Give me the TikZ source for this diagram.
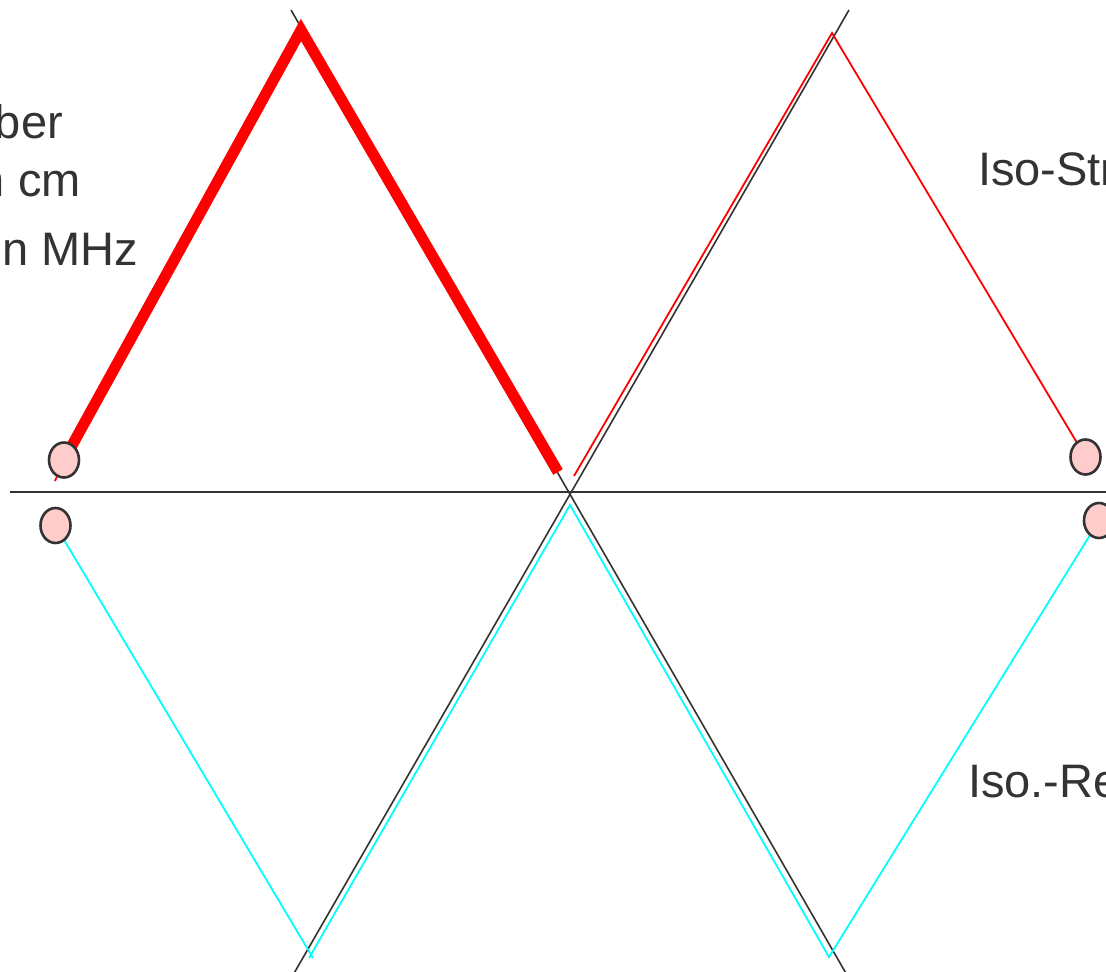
\documentclass[tikz,border=0pt]{standalone}
\usepackage{fontspec}
\setmainfont{Liberation Sans}
\usetikzlibrary{backgrounds,shapes.geometric}
\definecolor{ink}{HTML}{333333}
\definecolor{pinkfill}{HTML}{FFCCCC}
\definecolor{cyanline}{HTML}{00FFFF}
\definecolor{redline}{HTML}{FF0000}
\tikzset{
  port/.style={ellipse, draw=ink, line width=2.6pt, fill=pinkfill, minimum width=30pt, minimum height=35pt, inner sep=0pt},
  axis/.style={draw=ink, line width=1.6pt},
  thinred/.style={draw=redline, line width=1.8pt},
  thickred/.style={draw=redline, line width=11pt, line join=miter},
  cyanpath/.style={draw=cyanline, line width=1.8pt},
  lbl/.style={text=ink, inner sep=0pt, font=\fontsize{47}{56}\selectfont}
}
\begin{document}
\begin{tikzpicture}[x=1pt,y=-1pt]
\useasboundingbox (0,0) rectangle (1106,972);
\clip (0,0) rectangle (1106,972);
% ports
\node[port] (c1) at (64,460) {};
\node[port] (c2) at (55.5,525.5) {};
\node[port] (c3) at (1085.5,457) {};
\node[port] (c4) at (1099,520.5) {};
% coordinates
\coordinate (axL) at (10,492);
\coordinate (axR) at (1120,492);
\coordinate (dA1) at (291,10);
\coordinate (dA2) at (851,982);
\coordinate (dB1) at (849,10);
\coordinate (dB2) at (289,982);
\coordinate (rApex) at (301,30);
\coordinate (rEnd) at (558,472);
\coordinate (rTick) at (55,481);
\coordinate (tStart) at (574,476);
\coordinate (tApex) at (832,33);
\coordinate (cV1) at (313,958);
\coordinate (cV1b) at (309,958);
\coordinate (cTop) at (570,505);
\coordinate (cV2) at (829,957);
\begin{scope}[on background layer]
  \fill[white] (0,0) rectangle (1106,972);
  \draw[axis] (axL) -- (axR);
  \draw[axis] (dA1) -- (dA2);
  \draw[axis] (dB1) -- (dB2);
  \draw[thinred] (c1.center) -- (rTick);
  \draw[thickred] (c1.center) -- (rApex) -- (rEnd);
  \draw[thinred] (tStart) -- (tApex) -- (c3.center);
  \draw[cyanpath] (c2.center) -- (cV1);
  \draw[cyanpath] (cV1b) -- (cTop) -- (cV2) -- (c4.center);
\end{scope}
% labels
\node[lbl, anchor=base east] (t1) at (63,138) {ber};
\node[lbl, anchor=base east] (t2) at (81,196) {n cm};
\node[lbl, anchor=base east] (t3) at (138,265) {n MHz};
\node[lbl, anchor=base west] (t4) at (978,185) {Iso-Str};
\node[lbl, anchor=base west] (t5) at (968,797) {Iso.-Re};
\end{tikzpicture}
\end{document}
